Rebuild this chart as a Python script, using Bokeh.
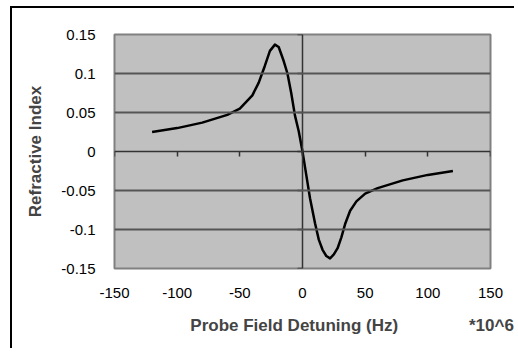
from bokeh.plotting import figure
from bokeh.models import LinearAxis, FixedTicker, Span, ColumnDataSource, CustomJSTickFormatter
from bokeh.embed import file_html
from bokeh.resources import INLINE

# Data
detuning = [-120, -100, -80, -60, -50, -40, -35, -30, -26, -22, -19, -15, -12, -9, -6, -3, 0,
            3, 6, 10, 13, 16, 19, 22, 25, 28, 31, 34, 38, 43, 50, 60, 80, 100, 120]
refractive_index = [0.025, 0.030, 0.037, 0.047, 0.055, 0.072, 0.088, 0.110, 0.129, 0.137, 0.134,
                    0.116, 0.100, 0.075, 0.046, 0.026, 0.0,
                    -0.030, -0.060, -0.092, -0.113, -0.126, -0.134, -0.137, -0.132, -0.124,
                    -0.110, -0.093, -0.076, -0.064, -0.054, -0.047, -0.037, -0.030, -0.025]
x_ticks = [-150, -100, -50, 0, 50, 100, 150]
x_tick_labels = {-150: "-150", -100: "-100", -50: "-50", 0: "0", 50: "50", 100: "100", 150: "150"}
y_ticks = [-0.15, -0.1, -0.05, 0, 0.05, 0.1, 0.15]
y_tick_labels = {-0.15: "-0.15", -0.1: "-0.1", -0.05: "-0.05", 0: "0",
                 0.05: "0.05", 0.1: "0.1", 0.15: "0.15"}
x_title = "Probe Field Detuning (Hz)"
y_title = "Refractive Index"
x_unit = "*10^6"

FONT = "Liberation Sans"
NBSP = "\u00a0"

p = figure(width=504, height=342, output_backend="svg", toolbar_location=None,
           x_range=(-150, 150), y_range=(-0.15, 0.15),
           x_axis_type=None, y_axis_type=None,
           min_border_left=102, min_border_right=26, min_border_top=26, min_border_bottom=82)
p.styles = {"margin-left": "12px", "margin-top": "8px",
            "box-shadow": "-2px -2px 0px 0px #000000"}
p.background_fill_color = "#c0c0c0"
p.border_fill_color = "white"
p.outline_line_color = "#808080"
p.outline_line_width = 2

# label axes at plot edges
xa = LinearAxis(ticker=FixedTicker(ticks=x_ticks))
xa.major_label_overrides = x_tick_labels
xa.axis_line_color = None
xa.major_tick_line_color = None
xa.minor_tick_line_color = None
xa.major_label_standoff = 13
xa.major_label_text_font = FONT
xa.major_label_text_font_size = "15px"
xa.major_label_text_color = "black"
# the unit note sits on the same line as the axis title, to its right
xa.axis_label = NBSP * 21 + x_title + NBSP * 15 + x_unit
xa.axis_label_text_font = FONT
xa.axis_label_text_font_style = "bold"
xa.axis_label_text_font_size = "17px"
xa.axis_label_standoff = 15
p.add_layout(xa, "below")

ya = LinearAxis(ticker=FixedTicker(ticks=y_ticks))
ya.major_label_overrides = y_tick_labels
ya.axis_line_color = None
ya.major_tick_line_color = None
ya.minor_tick_line_color = None
ya.major_label_standoff = 13
ya.major_label_text_font = FONT
ya.major_label_text_font_size = "15px"
ya.major_label_text_color = "black"
ya.axis_label = y_title
ya.axis_label_text_font = FONT
ya.axis_label_text_font_style = "bold"
ya.axis_label_text_font_size = "17px"
ya.axis_label_standoff = 13
p.add_layout(ya, "left")

# horizontal gridlines
for yv in y_ticks:
    if yv not in (0, -0.15, 0.15):
        p.add_layout(Span(location=yv, dimension="width", line_color="#555555", line_width=2))

# axes crossing at zero, with tick marks
blank = CustomJSTickFormatter(code="return ''")
xc = LinearAxis(ticker=FixedTicker(ticks=x_ticks), fixed_location=0, formatter=blank)
xc.axis_line_color = "#333333"
xc.axis_line_width = 1.5
xc.major_tick_line_color = "#333333"
xc.major_tick_line_width = 1.5
xc.major_tick_in = 0
xc.major_tick_out = 5
xc.minor_tick_line_color = None
p.add_layout(xc, "below")

yc = LinearAxis(ticker=FixedTicker(ticks=y_ticks), fixed_location=0, formatter=blank)
yc.axis_line_color = "#333333"
yc.axis_line_width = 1.5
yc.major_tick_line_color = "#333333"
yc.major_tick_line_width = 1.5
yc.major_tick_in = 0
yc.major_tick_out = 5
yc.minor_tick_line_color = None
p.add_layout(yc, "left")

src = ColumnDataSource(data=dict(x=detuning, y=refractive_index))
p.line("x", "y", source=src, line_color="black", line_width=2.5, line_join="round")

open("out.html", "w").write(file_html(p, INLINE))
